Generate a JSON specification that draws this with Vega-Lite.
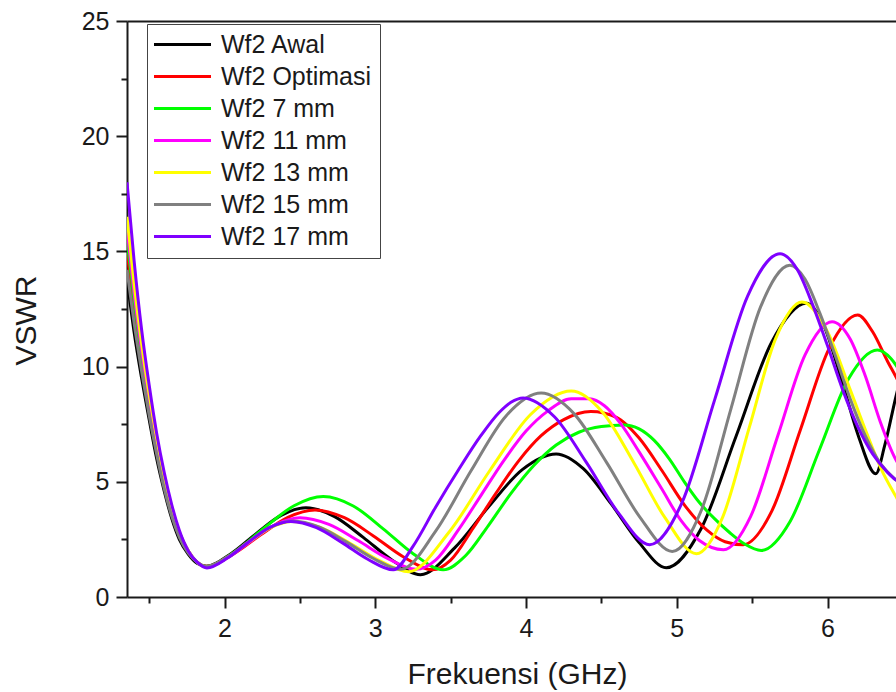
{
  "$schema": "https://vega.github.io/schema/vega-lite/v6.json",
  "width": 769,
  "height": 576,
  "autosize": "none",
  "padding": {"left": 127, "top": 21, "right": 0, "bottom": 95},
  "background": "white",
  "config": {"view": {"stroke": null}, "font": "Liberation Sans"},
  "data": {"values": [
    {"s":"Wf2 Awal","f":1.353,"v":13.8},{"s":"Wf2 Awal","f":1.40,"v":11.5},{"s":"Wf2 Awal","f":1.45,"v":9.5},{"s":"Wf2 Awal","f":1.50,"v":7.7},{"s":"Wf2 Awal","f":1.55,"v":6.0},{"s":"Wf2 Awal","f":1.60,"v":4.6},{"s":"Wf2 Awal","f":1.65,"v":3.4},{"s":"Wf2 Awal","f":1.70,"v":2.5},{"s":"Wf2 Awal","f":1.76,"v":1.85},{"s":"Wf2 Awal","f":1.82,"v":1.45},{"s":"Wf2 Awal","f":1.88,"v":1.33},
    {"s":"Wf2 Awal","f":2.045,"v":1.89},{"s":"Wf2 Awal","f":2.21,"v":2.75},{"s":"Wf2 Awal","f":2.375,"v":3.54},{"s":"Wf2 Awal","f":2.54,"v":3.87},
    {"s":"Wf2 Awal","f":2.73,"v":3.49},{"s":"Wf2 Awal","f":2.92,"v":2.59},{"s":"Wf2 Awal","f":3.11,"v":1.61},{"s":"Wf2 Awal","f":3.30,"v":0.97},
    {"s":"Wf2 Awal","f":3.525,"v":2.12},{"s":"Wf2 Awal","f":3.75,"v":3.90},{"s":"Wf2 Awal","f":3.975,"v":5.53},{"s":"Wf2 Awal","f":4.20,"v":6.21},
    {"s":"Wf2 Awal","f":4.38,"v":5.57},{"s":"Wf2 Awal","f":4.565,"v":4.04},{"s":"Wf2 Awal","f":4.75,"v":2.36},{"s":"Wf2 Awal","f":4.93,"v":1.27},
    {"s":"Wf2 Awal","f":5.16,"v":2.95},{"s":"Wf2 Awal","f":5.395,"v":7.01},{"s":"Wf2 Awal","f":5.63,"v":11.07},{"s":"Wf2 Awal","f":5.86,"v":12.75},
    {"s":"Wf2 Awal","f":5.975,"v":11.79},{"s":"Wf2 Awal","f":6.09,"v":9.49},{"s":"Wf2 Awal","f":6.205,"v":6.98},{"s":"Wf2 Awal","f":6.32,"v":5.35},
    {"s":"Wf2 Awal","f":6.38,"v":6.6},{"s":"Wf2 Awal","f":6.45,"v":8.6},{"s":"Wf2 Awal","f":6.52,"v":10.5},

    {"s":"Wf2 Optimasi","f":1.353,"v":15.0},{"s":"Wf2 Optimasi","f":1.40,"v":12.5},{"s":"Wf2 Optimasi","f":1.45,"v":10.2},{"s":"Wf2 Optimasi","f":1.50,"v":8.2},{"s":"Wf2 Optimasi","f":1.55,"v":6.4},{"s":"Wf2 Optimasi","f":1.60,"v":4.9},{"s":"Wf2 Optimasi","f":1.65,"v":3.7},{"s":"Wf2 Optimasi","f":1.70,"v":2.7},{"s":"Wf2 Optimasi","f":1.76,"v":1.95},{"s":"Wf2 Optimasi","f":1.82,"v":1.5},{"s":"Wf2 Optimasi","f":1.88,"v":1.33},
    {"s":"Wf2 Optimasi","f":2.06,"v":1.87},{"s":"Wf2 Optimasi","f":2.24,"v":2.70},{"s":"Wf2 Optimasi","f":2.42,"v":3.46},{"s":"Wf2 Optimasi","f":2.60,"v":3.78},
    {"s":"Wf2 Optimasi","f":2.795,"v":3.44},{"s":"Wf2 Optimasi","f":2.99,"v":2.64},{"s":"Wf2 Optimasi","f":3.185,"v":1.75},{"s":"Wf2 Optimasi","f":3.38,"v":1.18},
    {"s":"Wf2 Optimasi","f":3.5,"v":1.6},{"s":"Wf2 Optimasi","f":3.65,"v":3.0},{"s":"Wf2 Optimasi","f":3.8,"v":4.5},{"s":"Wf2 Optimasi","f":3.95,"v":5.9},{"s":"Wf2 Optimasi","f":4.1,"v":7.0},{"s":"Wf2 Optimasi","f":4.25,"v":7.7},{"s":"Wf2 Optimasi","f":4.43,"v":8.05},{"s":"Wf2 Optimasi","f":4.6,"v":7.8},{"s":"Wf2 Optimasi","f":4.75,"v":6.9},{"s":"Wf2 Optimasi","f":4.9,"v":5.5},{"s":"Wf2 Optimasi","f":5.05,"v":4.0},{"s":"Wf2 Optimasi","f":5.2,"v":2.9},{"s":"Wf2 Optimasi","f":5.32,"v":2.4},{"s":"Wf2 Optimasi","f":5.44,"v":2.27},
    {"s":"Wf2 Optimasi","f":5.63,"v":3.73},{"s":"Wf2 Optimasi","f":5.82,"v":7.26},{"s":"Wf2 Optimasi","f":6.01,"v":10.78},{"s":"Wf2 Optimasi","f":6.20,"v":12.24},
    {"s":"Wf2 Optimasi","f":6.3,"v":11.5},{"s":"Wf2 Optimasi","f":6.4,"v":10.2},{"s":"Wf2 Optimasi","f":6.45,"v":9.6},{"s":"Wf2 Optimasi","f":6.52,"v":8.7},

    {"s":"Wf2 7 mm","f":1.353,"v":15.5},{"s":"Wf2 7 mm","f":1.40,"v":12.9},{"s":"Wf2 7 mm","f":1.45,"v":10.5},{"s":"Wf2 7 mm","f":1.50,"v":8.5},{"s":"Wf2 7 mm","f":1.55,"v":6.7},{"s":"Wf2 7 mm","f":1.60,"v":5.1},{"s":"Wf2 7 mm","f":1.65,"v":3.8},{"s":"Wf2 7 mm","f":1.70,"v":2.8},{"s":"Wf2 7 mm","f":1.76,"v":2.0},{"s":"Wf2 7 mm","f":1.82,"v":1.5},{"s":"Wf2 7 mm","f":1.88,"v":1.32},
    {"s":"Wf2 7 mm","f":2.074,"v":1.99},{"s":"Wf2 7 mm","f":2.2675,"v":3.02},{"s":"Wf2 7 mm","f":2.461,"v":3.96},{"s":"Wf2 7 mm","f":2.655,"v":4.36},
    {"s":"Wf2 7 mm","f":2.854,"v":3.95},{"s":"Wf2 7 mm","f":3.0525,"v":2.96},{"s":"Wf2 7 mm","f":3.251,"v":1.88},{"s":"Wf2 7 mm","f":3.45,"v":1.18},
    {"s":"Wf2 7 mm","f":3.6,"v":1.8},{"s":"Wf2 7 mm","f":3.75,"v":3.1},{"s":"Wf2 7 mm","f":3.9,"v":4.5},{"s":"Wf2 7 mm","f":4.05,"v":5.7},{"s":"Wf2 7 mm","f":4.2,"v":6.6},{"s":"Wf2 7 mm","f":4.35,"v":7.15},{"s":"Wf2 7 mm","f":4.5,"v":7.4},{"s":"Wf2 7 mm","f":4.65,"v":7.47},{"s":"Wf2 7 mm","f":4.75,"v":7.3},{"s":"Wf2 7 mm","f":4.85,"v":6.8},{"s":"Wf2 7 mm","f":4.95,"v":6.0},{"s":"Wf2 7 mm","f":5.05,"v":5.0},{"s":"Wf2 7 mm","f":5.15,"v":4.1},{"s":"Wf2 7 mm","f":5.25,"v":3.4},{"s":"Wf2 7 mm","f":5.35,"v":2.8},{"s":"Wf2 7 mm","f":5.45,"v":2.3},{"s":"Wf2 7 mm","f":5.56,"v":2.02},
    {"s":"Wf2 7 mm","f":5.7525,"v":3.29},{"s":"Wf2 7 mm","f":5.945,"v":6.37},{"s":"Wf2 7 mm","f":6.1375,"v":9.45},{"s":"Wf2 7 mm","f":6.33,"v":10.72},
    {"s":"Wf2 7 mm","f":6.42,"v":10.35},{"s":"Wf2 7 mm","f":6.45,"v":10.1},{"s":"Wf2 7 mm","f":6.52,"v":9.3},

    {"s":"Wf2 11 mm","f":1.353,"v":16.0},{"s":"Wf2 11 mm","f":1.40,"v":13.2},{"s":"Wf2 11 mm","f":1.45,"v":10.7},{"s":"Wf2 11 mm","f":1.50,"v":8.6},{"s":"Wf2 11 mm","f":1.55,"v":6.7},{"s":"Wf2 11 mm","f":1.60,"v":5.1},{"s":"Wf2 11 mm","f":1.65,"v":3.8},{"s":"Wf2 11 mm","f":1.70,"v":2.8},{"s":"Wf2 11 mm","f":1.76,"v":2.0},{"s":"Wf2 11 mm","f":1.82,"v":1.5},{"s":"Wf2 11 mm","f":1.88,"v":1.3},
    {"s":"Wf2 11 mm","f":2.035,"v":1.77},{"s":"Wf2 11 mm","f":2.19,"v":2.50},{"s":"Wf2 11 mm","f":2.345,"v":3.16},{"s":"Wf2 11 mm","f":2.5,"v":3.44},
    {"s":"Wf2 11 mm","f":2.6925,"v":3.15},{"s":"Wf2 11 mm","f":2.885,"v":2.45},{"s":"Wf2 11 mm","f":3.0775,"v":1.69},{"s":"Wf2 11 mm","f":3.27,"v":1.2},
    {"s":"Wf2 11 mm","f":3.4,"v":1.6},{"s":"Wf2 11 mm","f":3.55,"v":2.9},{"s":"Wf2 11 mm","f":3.7,"v":4.4},{"s":"Wf2 11 mm","f":3.85,"v":5.9},{"s":"Wf2 11 mm","f":4.0,"v":7.2},{"s":"Wf2 11 mm","f":4.15,"v":8.1},{"s":"Wf2 11 mm","f":4.3,"v":8.6},{"s":"Wf2 11 mm","f":4.42,"v":8.6},{"s":"Wf2 11 mm","f":4.52,"v":8.3},{"s":"Wf2 11 mm","f":4.63,"v":7.5},{"s":"Wf2 11 mm","f":4.75,"v":6.3},{"s":"Wf2 11 mm","f":4.9,"v":4.7},{"s":"Wf2 11 mm","f":5.03,"v":3.3},{"s":"Wf2 11 mm","f":5.15,"v":2.45},{"s":"Wf2 11 mm","f":5.31,"v":2.05},
    {"s":"Wf2 11 mm","f":5.49,"v":3.50},{"s":"Wf2 11 mm","f":5.67,"v":7.0},{"s":"Wf2 11 mm","f":5.85,"v":10.5},{"s":"Wf2 11 mm","f":6.03,"v":11.95},
    {"s":"Wf2 11 mm","f":6.15,"v":11.2},{"s":"Wf2 11 mm","f":6.25,"v":9.6},{"s":"Wf2 11 mm","f":6.35,"v":7.6},{"s":"Wf2 11 mm","f":6.45,"v":6.0},{"s":"Wf2 11 mm","f":6.52,"v":5.3},

    {"s":"Wf2 13 mm","f":1.353,"v":16.5},{"s":"Wf2 13 mm","f":1.40,"v":13.6},{"s":"Wf2 13 mm","f":1.45,"v":11.0},{"s":"Wf2 13 mm","f":1.50,"v":8.8},{"s":"Wf2 13 mm","f":1.55,"v":6.9},{"s":"Wf2 13 mm","f":1.60,"v":5.2},{"s":"Wf2 13 mm","f":1.65,"v":3.9},{"s":"Wf2 13 mm","f":1.70,"v":2.8},{"s":"Wf2 13 mm","f":1.76,"v":2.0},{"s":"Wf2 13 mm","f":1.82,"v":1.5},{"s":"Wf2 13 mm","f":1.88,"v":1.3},
    {"s":"Wf2 13 mm","f":2.0225,"v":1.74},{"s":"Wf2 13 mm","f":2.165,"v":2.41},{"s":"Wf2 13 mm","f":2.3075,"v":3.02},{"s":"Wf2 13 mm","f":2.45,"v":3.28},
    {"s":"Wf2 13 mm","f":2.6425,"v":3.00},{"s":"Wf2 13 mm","f":2.835,"v":2.32},{"s":"Wf2 13 mm","f":3.0275,"v":1.58},{"s":"Wf2 13 mm","f":3.22,"v":1.1},
    {"s":"Wf2 13 mm","f":3.49,"v":2.82},{"s":"Wf2 13 mm","f":3.76,"v":5.49},{"s":"Wf2 13 mm","f":4.03,"v":7.92},{"s":"Wf2 13 mm","f":4.3,"v":8.94},
    {"s":"Wf2 13 mm","f":4.5075,"v":8.02},{"s":"Wf2 13 mm","f":4.715,"v":5.83},{"s":"Wf2 13 mm","f":4.9225,"v":3.43},{"s":"Wf2 13 mm","f":5.13,"v":1.88},
    {"s":"Wf2 13 mm","f":5.305,"v":3.48},{"s":"Wf2 13 mm","f":5.48,"v":7.34},{"s":"Wf2 13 mm","f":5.655,"v":11.2},{"s":"Wf2 13 mm","f":5.83,"v":12.8},
    {"s":"Wf2 13 mm","f":6.0,"v":11.5},{"s":"Wf2 13 mm","f":6.15,"v":9.0},{"s":"Wf2 13 mm","f":6.26,"v":7.1},{"s":"Wf2 13 mm","f":6.36,"v":5.5},{"s":"Wf2 13 mm","f":6.45,"v":4.4},{"s":"Wf2 13 mm","f":6.52,"v":3.6},

    {"s":"Wf2 15 mm","f":1.353,"v":14.2},{"s":"Wf2 15 mm","f":1.40,"v":11.9},{"s":"Wf2 15 mm","f":1.45,"v":9.8},{"s":"Wf2 15 mm","f":1.50,"v":7.9},{"s":"Wf2 15 mm","f":1.55,"v":6.2},{"s":"Wf2 15 mm","f":1.60,"v":4.7},{"s":"Wf2 15 mm","f":1.65,"v":3.5},{"s":"Wf2 15 mm","f":1.70,"v":2.6},{"s":"Wf2 15 mm","f":1.76,"v":1.9},{"s":"Wf2 15 mm","f":1.82,"v":1.5},{"s":"Wf2 15 mm","f":1.88,"v":1.33},
    {"s":"Wf2 15 mm","f":2.0225,"v":1.76},{"s":"Wf2 15 mm","f":2.165,"v":2.43},{"s":"Wf2 15 mm","f":2.3075,"v":3.04},{"s":"Wf2 15 mm","f":2.45,"v":3.3},
    {"s":"Wf2 15 mm","f":2.63,"v":3.03},{"s":"Wf2 15 mm","f":2.81,"v":2.38},{"s":"Wf2 15 mm","f":2.99,"v":1.66},{"s":"Wf2 15 mm","f":3.17,"v":1.2},
    {"s":"Wf2 15 mm","f":3.4025,"v":2.88},{"s":"Wf2 15 mm","f":3.635,"v":5.48},{"s":"Wf2 15 mm","f":3.8675,"v":7.86},{"s":"Wf2 15 mm","f":4.1,"v":8.85},
    {"s":"Wf2 15 mm","f":4.3175,"v":7.96},{"s":"Wf2 15 mm","f":4.535,"v":5.83},{"s":"Wf2 15 mm","f":4.7525,"v":3.49},{"s":"Wf2 15 mm","f":4.97,"v":1.98},
    {"s":"Wf2 15 mm","f":5.165,"v":3.80},{"s":"Wf2 15 mm","f":5.36,"v":8.19},{"s":"Wf2 15 mm","f":5.555,"v":12.58},{"s":"Wf2 15 mm","f":5.75,"v":14.4},
    {"s":"Wf2 15 mm","f":5.85,"v":13.8},{"s":"Wf2 15 mm","f":5.95,"v":12.3},{"s":"Wf2 15 mm","f":6.05,"v":10.5},{"s":"Wf2 15 mm","f":6.15,"v":8.6},{"s":"Wf2 15 mm","f":6.25,"v":7.0},{"s":"Wf2 15 mm","f":6.35,"v":5.8},{"s":"Wf2 15 mm","f":6.45,"v":5.1},{"s":"Wf2 15 mm","f":6.52,"v":4.8},

    {"s":"Wf2 17 mm","f":1.353,"v":18.0},{"s":"Wf2 17 mm","f":1.40,"v":14.6},{"s":"Wf2 17 mm","f":1.45,"v":11.6},{"s":"Wf2 17 mm","f":1.50,"v":9.2},{"s":"Wf2 17 mm","f":1.55,"v":7.1},{"s":"Wf2 17 mm","f":1.60,"v":5.4},{"s":"Wf2 17 mm","f":1.65,"v":4.0},{"s":"Wf2 17 mm","f":1.70,"v":2.9},{"s":"Wf2 17 mm","f":1.76,"v":2.0},{"s":"Wf2 17 mm","f":1.82,"v":1.5},{"s":"Wf2 17 mm","f":1.883,"v":1.26},
    {"s":"Wf2 17 mm","f":2.022,"v":1.70},{"s":"Wf2 17 mm","f":2.16,"v":2.39},{"s":"Wf2 17 mm","f":2.30,"v":3.02},{"s":"Wf2 17 mm","f":2.44,"v":3.28},
    {"s":"Wf2 17 mm","f":2.61,"v":3.01},{"s":"Wf2 17 mm","f":2.78,"v":2.36},{"s":"Wf2 17 mm","f":2.95,"v":1.64},{"s":"Wf2 17 mm","f":3.12,"v":1.18},
    {"s":"Wf2 17 mm","f":3.25,"v":2.2},{"s":"Wf2 17 mm","f":3.4,"v":3.9},{"s":"Wf2 17 mm","f":3.55,"v":5.5},{"s":"Wf2 17 mm","f":3.7,"v":7.0},{"s":"Wf2 17 mm","f":3.82,"v":8.0},{"s":"Wf2 17 mm","f":3.9,"v":8.45},{"s":"Wf2 17 mm","f":3.98,"v":8.64},
    {"s":"Wf2 17 mm","f":4.19,"v":7.81},{"s":"Wf2 17 mm","f":4.40,"v":5.84},{"s":"Wf2 17 mm","f":4.61,"v":3.67},{"s":"Wf2 17 mm","f":4.82,"v":2.27},
    {"s":"Wf2 17 mm","f":5.036,"v":4.12},{"s":"Wf2 17 mm","f":5.2525,"v":8.59},{"s":"Wf2 17 mm","f":5.469,"v":13.05},{"s":"Wf2 17 mm","f":5.685,"v":14.9},
    {"s":"Wf2 17 mm","f":5.8,"v":14.2},{"s":"Wf2 17 mm","f":5.9,"v":12.7},{"s":"Wf2 17 mm","f":6.0,"v":10.9},{"s":"Wf2 17 mm","f":6.1,"v":9.0},{"s":"Wf2 17 mm","f":6.2,"v":7.4},{"s":"Wf2 17 mm","f":6.3,"v":6.2},{"s":"Wf2 17 mm","f":6.4,"v":5.4},{"s":"Wf2 17 mm","f":6.45,"v":5.1},{"s":"Wf2 17 mm","f":6.52,"v":4.9}
  ]},
  "layer": [
    {
      "mark": {"type": "line", "clip": true, "strokeWidth": 3, "interpolate": "monotone"},
      "encoding": {
        "x": {
          "field": "f", "type": "quantitative",
          "scale": {"domain": [1.353, 6.454], "nice": false, "zero": false},
          "axis": {
            "orient": "bottom", "values": [2, 3, 4, 5, 6], "format": "d",
            "grid": false, "tickSize": 11, "tickWidth": 2, "tickColor": "#1a1a1a",
            "domainWidth": 2, "domainColor": "#1a1a1a",
            "labelFont": "Liberation Sans", "labelFontSize": 25, "labelColor": "#1a1a1a", "labelPadding": 8,
            "title": "Frekuensi (GHz)", "titleFont": "Liberation Sans", "titleFontSize": 30, "titleFontWeight": "normal",
            "titleColor": "#1a1a1a", "titleX": 390, "titleY": 86, "titleBaseline": "alphabetic", "titleAlign": "center"
          }
        },
        "y": {
          "field": "v", "type": "quantitative",
          "scale": {"domain": [0, 25], "nice": false, "zero": true},
          "axis": {
            "orient": "left", "values": [0, 5, 10, 15, 20, 25],
            "grid": false, "tickSize": 11, "tickWidth": 2, "tickColor": "#1a1a1a",
            "domainWidth": 2, "domainColor": "#1a1a1a",
            "labelFont": "Liberation Sans", "labelFontSize": 25, "labelColor": "#1a1a1a", "labelPadding": 7,
            "title": "VSWR", "titleFont": "Liberation Sans", "titleFontSize": 30, "titleFontWeight": "normal",
            "titleColor": "#1a1a1a", "titleX": -92, "titleY": 299, "titleAngle": -90, "titleBaseline": "alphabetic", "titleAlign": "center"
          }
        },
        "color": {
          "field": "s", "type": "nominal", "sort": null,
          "scale": {
            "domain": ["Wf2 Awal", "Wf2 Optimasi", "Wf2 7 mm", "Wf2 11 mm", "Wf2 13 mm", "Wf2 15 mm", "Wf2 17 mm"],
            "range": ["#000000", "#ff0000", "#00ff00", "#ff00ff", "#ffff00", "#808080", "#7f00ff"]
          },
          "legend": {
            "orient": "none", "legendX": 20, "legendY": 3, "title": null, "direction": "vertical",
            "symbolType": "M-3,0H3", "symbolSize": 361, "symbolStrokeWidth": 3, "symbolOffset": 15,
            "labelOffset": 26, "labelFont": "Liberation Sans", "labelFontSize": 25, "labelColor": "#1a1a1a",
            "labelLimit": 400, "rowPadding": 6, "padding": 8,
            "strokeColor": "#444444", "fillColor": "white"
          }
        }
      }
    },
    {
      "mark": {"type": "point", "opacity": 0, "clip": true},
      "encoding": {
        "x": {
          "field": "f", "type": "quantitative",
          "axis": {"orient": "bottom", "values": [1.5, 2.5, 3.5, 4.5, 5.5], "labels": false, "domain": false, "grid": false,
                   "tickSize": 6, "tickWidth": 2, "tickColor": "#1a1a1a", "title": null}
        },
        "y": {
          "field": "v", "type": "quantitative",
          "axis": {"orient": "left", "values": [2.5, 7.5, 12.5, 17.5, 22.5], "labels": false, "domain": false, "grid": false,
                   "tickSize": 6, "tickWidth": 2, "tickColor": "#1a1a1a", "title": null}
        }
      }
    },
    {
      "mark": {"type": "point", "opacity": 0, "clip": true},
      "encoding": {
        "x": {
          "field": "f", "type": "quantitative",
          "axis": {"orient": "top", "labels": false, "ticks": false, "domain": true, "grid": false,
                   "domainWidth": 2, "domainColor": "#1a1a1a", "title": null}
        },
        "y": {"field": "v", "type": "quantitative", "axis": null}
      }
    }
  ],
  "resolve": {"axis": {"x": "independent", "y": "independent"}}
}
